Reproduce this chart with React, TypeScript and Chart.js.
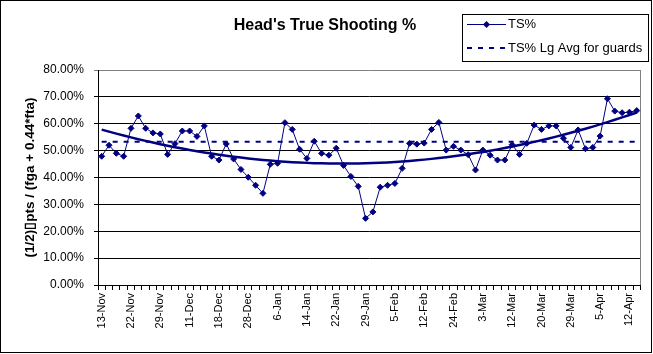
import React, { useEffect, useRef } from 'react';
import { Chart, registerables } from 'chart.js';

Chart.register(...registerables);

// Tick labels shown on the category axis (one every 4 games)
const tickLabels = [
  '13-Nov', '22-Nov', '29-Nov', '11-Dec', '18-Dec', '28-Dec', '6-Jan', '14-Jan',
  '22-Jan', '29-Jan', '5-Feb', '12-Feb', '24-Feb', '3-Mar', '12-Mar', '20-Mar',
  '29-Mar', '5-Apr', '12-Apr',
];

// Game-by-game true shooting % (percent units)
const tsPct = [
  47.9, 52.0, 49.0, 47.9, 58.3, 62.9, 58.3, 56.6, 56.2, 48.6,
  52.6, 57.3, 57.3, 55.3, 59.2, 47.9, 46.5, 52.5, 46.9, 43.0,
  40.1, 37.1, 34.1, 44.9, 45.3, 60.4, 57.9, 50.5, 47.1, 53.5,
  49.0, 48.3, 50.9, 44.5, 40.4, 36.7, 24.8, 27.2, 36.4, 37.1,
  37.8, 43.4, 52.7, 52.4, 52.8, 57.9, 60.5, 50.2, 51.6, 50.2,
  48.5, 42.8, 50.2, 48.3, 46.5, 46.5, 52.2, 48.6, 52.7, 59.5,
  57.9, 59.2, 59.2, 54.6, 51.2, 57.7, 50.7, 51.2, 55.4, 69.3,
  64.7, 64.1, 64.3, 64.9,
];

// League average TS% for guards
const leagueAvgGuards = 53.3;

const yMin = 0;
const yMax = 80;
const yStep = 10;

const titleText = "Head's True Shooting %";
const yTitleText = '(1/2)\u25AFpts / (fga + 0.44*fta)';
const seriesName = 'TS%';
const avgName = 'TS% Lg Avg for guards';

// Excel-style 2nd order polynomial trendline (least squares on the series)
function polyFit2(ys: number[]): number[] {
  let s0 = 0, s1 = 0, s2 = 0, s3 = 0, s4 = 0, t0 = 0, t1 = 0, t2 = 0;
  ys.forEach((y, i) => {
    const x = i + 1;
    s0 += 1; s1 += x; s2 += x * x; s3 += x * x * x; s4 += x * x * x * x;
    t0 += y; t1 += x * y; t2 += x * x * y;
  });
  const det3 = (m: number[][]) =>
    m[0][0] * (m[1][1] * m[2][2] - m[1][2] * m[2][1]) -
    m[0][1] * (m[1][0] * m[2][2] - m[1][2] * m[2][0]) +
    m[0][2] * (m[1][0] * m[2][1] - m[1][1] * m[2][0]);
  const A = [[s4, s3, s2], [s3, s2, s1], [s2, s1, s0]];
  const B = [t2, t1, t0];
  const D = det3(A);
  const rep = (col: number) => A.map((row, r) => row.map((v, c) => (c === col ? B[r] : v)));
  const a = det3(rep(0)) / D;
  const b = det3(rep(1)) / D;
  const c = det3(rep(2)) / D;
  return ys.map((_, i) => {
    const x = i + 1;
    return a * x * x + b * x + c;
  });
}

const FONT = '"Liberation Sans", Arial, sans-serif';
const NAVY = '#000080';

export default function App() {
  const ref = useRef<HTMLCanvasElement>(null);

  useEffect(() => {
    document.body.style.margin = '0';
    const canvas = ref.current;
    if (!canvas) return;

    const labels = tsPct.map((_, i) => (i % 4 === 0 ? tickLabels[i / 4] ?? '' : ''));
    const trend = polyFit2(tsPct);
    const avg = tsPct.map(() => leagueAvgGuards);

    const decor = {
      id: 'decor',
      beforeDatasetsDraw(chart: any) {
        const { ctx, chartArea: a } = chart;
        ctx.save();
        ctx.strokeStyle = '#808080';
        ctx.lineWidth = 1;
        ctx.beginPath();
        ctx.moveTo(Math.round(a.right) + 0.5, a.top);
        ctx.lineTo(Math.round(a.right) + 0.5, a.bottom);
        ctx.stroke();
        ctx.restore();
      },
      afterDraw(chart: any) {
        const { ctx } = chart;
        ctx.save();
        // outer chart border
        ctx.strokeStyle = '#000';
        ctx.lineWidth = 1;
        ctx.setLineDash([]);
        ctx.strokeRect(0.5, 0.5, 651, 352);

        // title
        ctx.fillStyle = '#000';
        ctx.font = `bold 16px ${FONT}`;
        ctx.textAlign = 'center';
        ctx.textBaseline = 'middle';
        ctx.fillText(titleText, 325, 26);

        // legend box
        ctx.strokeRect(462.5, 14.5, 186, 47);
        ctx.font = `13px ${FONT}`;
        ctx.textAlign = 'left';
        // row 1
        const y1 = 24.5;
        ctx.strokeStyle = NAVY;
        ctx.lineWidth = 1;
        ctx.beginPath();
        ctx.moveTo(467, y1);
        ctx.lineTo(506, y1);
        ctx.stroke();
        ctx.fillStyle = NAVY;
        ctx.beginPath();
        ctx.moveTo(486.5 - 3.5, y1);
        ctx.lineTo(486.5, y1 - 3.5);
        ctx.lineTo(486.5 + 3.5, y1);
        ctx.lineTo(486.5, y1 + 3.5);
        ctx.closePath();
        ctx.fill();
        ctx.fillStyle = '#000';
        ctx.fillText(seriesName, 508, y1);
        // row 2
        const y2 = 48;
        ctx.strokeStyle = NAVY;
        ctx.lineWidth = 2;
        ctx.setLineDash([5, 6]);
        ctx.beginPath();
        ctx.moveTo(467, y2);
        ctx.lineTo(506, y2);
        ctx.stroke();
        ctx.setLineDash([]);
        ctx.fillStyle = '#000';
        ctx.fillText(avgName, 508, y2);
        ctx.restore();
      },
    };

    const chart = new Chart(canvas, {
      type: 'line',
      data: {
        labels,
        datasets: [
          {
            label: seriesName,
            data: tsPct,
            borderColor: NAVY,
            backgroundColor: NAVY,
            borderWidth: 1,
            pointStyle: 'rectRot',
            pointRadius: 3,
            pointBorderWidth: 1,
            pointBackgroundColor: NAVY,
            pointBorderColor: NAVY,
            tension: 0,
            fill: false,
          },
          {
            label: 'Poly. (TS%)',
            data: trend,
            borderColor: NAVY,
            borderWidth: 2.5,
            pointRadius: 0,
            tension: 0,
            fill: false,
          },
          {
            label: avgName,
            data: avg,
            borderColor: NAVY,
            borderWidth: 2,
            borderDash: [5, 6],
            pointRadius: 0,
            fill: false,
          },
        ],
      },
      options: {
        animation: false,
        responsive: false,
        devicePixelRatio: 1,
        layout: { padding: { top: 70, right: 5, left: 0, bottom: 0 } },
        plugins: {
          legend: { display: false },
          title: { display: false },
          tooltip: { enabled: false },
        },
        scales: {
          x: {
            type: 'category',
            offset: true,
            grid: {
              offset: true,
              drawOnChartArea: false,
              drawTicks: true,
              tickLength: 5,
              color: '#000',
              lineWidth: 1,
            },
            border: { display: true, color: '#000', width: 1 },
            ticks: {
              autoSkip: false,
              maxRotation: 90,
              minRotation: 90,
              padding: 3,
              color: '#000',
              font: { family: FONT, size: 11 },
            },
            afterFit: (s: any) => {
              s.height = 69;
            },
          },
          y: {
            min: yMin,
            max: yMax,
            ticks: {
              stepSize: yStep,
              padding: 10,
              color: '#000',
              font: { family: FONT, size: 12 },
              callback: (v: any) => Number(v).toFixed(2) + '%',
            },
            grid: {
              color: (c: any) => (c.tick && c.tick.value === yMax ? '#808080' : '#000'),
              lineWidth: 1,
              tickLength: 4,
            },
            border: { display: true, color: '#000', width: 1 },
            title: {
              display: true,
              text: yTitleText,
              color: '#000',
              font: { family: FONT, size: 13.5, weight: 'bold' },
              padding: { top: 22, bottom: 0 },
            },
            afterFit: (s: any) => {
              s.width = 98;
            },
          },
        },
      },
      plugins: [decor],
    });

    return () => chart.destroy();
  }, []);

  return (
    <div style={{ width: 653, height: 354, background: '#fff' }}>
      <canvas ref={ref} width={653} height={354} style={{ display: 'block' }} />
    </div>
  );
}
